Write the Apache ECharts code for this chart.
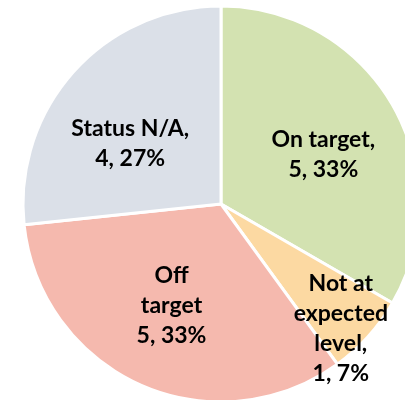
<!DOCTYPE html>
<html>
<head>
<meta charset="utf-8">
<script src="https://cdn.jsdelivr.net/npm/echarts@6/dist/echarts.min.js"></script>
<style>
  html, body { margin: 0; padding: 0; background: #fff; }
  #chart { width: 405px; height: 400px; }
</style>
</head>
<body>
<div id="chart"></div>
<script>
// data
var categories = ['On target', 'Not at expected level', 'Off target', 'Status N/A'];
var values = [5, 1, 5, 4];
var labelText = ['On target,', 'Not at\nexpected\nlevel,', 'Off\ntarget', 'Status N/A,'];
var colors = ['#d3e2b1', '#fcd9a2', '#f5b9ae', '#dbe0e8'];
var labelOffsets = [[14, 2], [44, 56], [-8, 8], [-15, 8]];

var total = values.reduce(function (a, b) { return a + b; }, 0);

var chart = echarts.init(document.getElementById('chart'));

var pieData = categories.map(function (name, i) {
  return {
    name: name,
    value: values[i],
    itemStyle: { color: colors[i] },
    label: { offset: labelOffsets[i] }
  };
});

chart.setOption({
  animation: false,
  series: [{
    type: 'pie',
    center: [221, 204],
    radius: 198,
    startAngle: 90,
    clockwise: true,
    avoidLabelOverlap: false,
    itemStyle: { borderColor: '#ffffff', borderWidth: 3 },
    label: {
      show: true,
      position: 'inside',
      color: '#000',
      fontFamily: 'Lato',
      fontWeight: 'bold',
      fontSize: 23,
      lineHeight: 30,
      align: 'center',
      formatter: function (p) {
        var pct = Math.round(p.value / total * 100);
        return labelText[p.dataIndex] + '\n' + p.value + ', ' + pct + '%';
      }
    },
    labelLine: { show: false },
    emphasis: { disabled: true },
    data: pieData
  }]
});
</script>
</body>
</html>
